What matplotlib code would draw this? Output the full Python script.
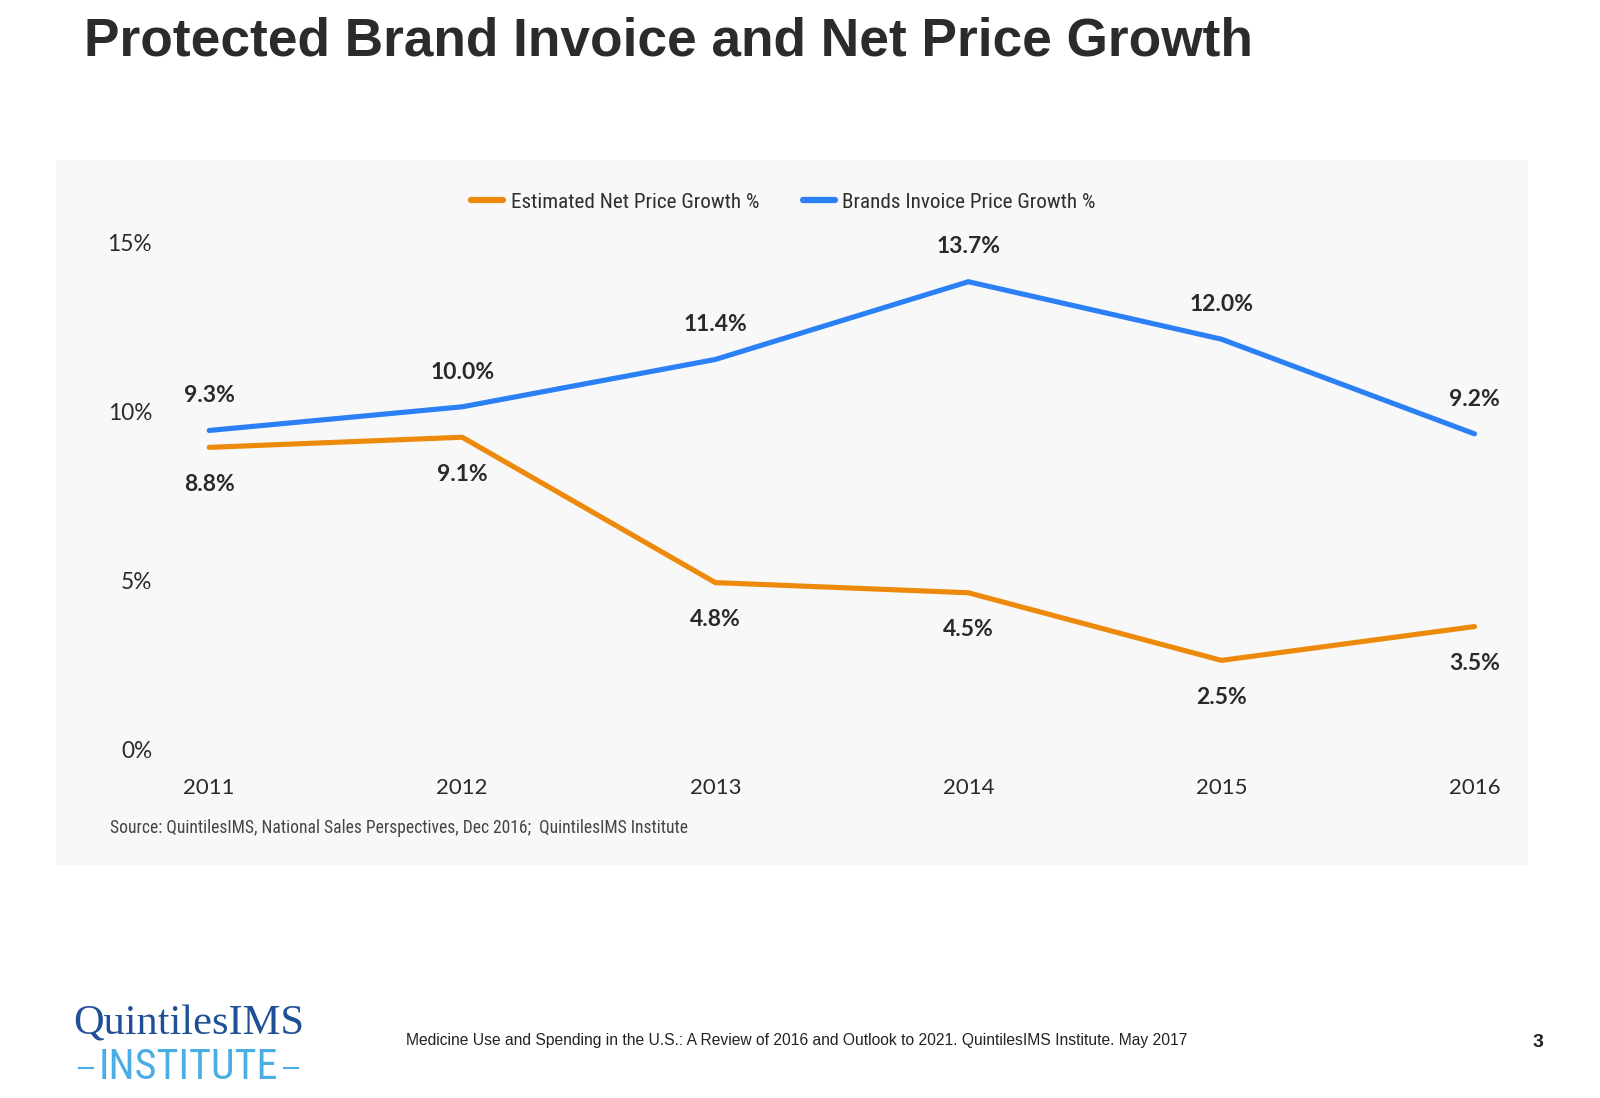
import matplotlib
matplotlib.use("Agg")
import matplotlib.pyplot as plt
import matplotlib.transforms as mtransforms
from matplotlib import font_manager
from matplotlib.font_manager import FontProperties
from matplotlib.patches import Rectangle
from matplotlib.lines import Line2D

years = ["2011", "2012", "2013", "2014", "2015", "2016"]
net_price = [8.8, 9.1, 4.8, 4.5, 2.5, 3.5]
invoice_price = [9.3, 10.0, 11.4, 13.7, 12.0, 9.2]
y_ticks = [0, 5, 10, 15]
y_tick_labels = ["0%", "5%", "10%", "15%"]

ORANGE = "#ee8a0b"
BLUE = "#2c80f6"
TEXT = "#2a2a2a"

names = {f.name for f in font_manager.fontManager.ttflist}
body = "Lato" if "Lato" in names else "DejaVu Sans"

# look for some condensed face for the legend / source text
cond_file = None
for pref in ["LiberationSansNarrow-Regular", "RobotoCondensed-Regular", "Roboto_Condensed",
             "OpenSans_Condensed-Regular", "DejaVuSansCondensed.ttf"]:
    for f in font_manager.fontManager.ttflist:
        if pref.lower() in f.fname.lower().replace(" ", ""):
            cond_file = f.fname
            break
    if cond_file:
        break


def cond(size):
    if cond_file:
        return FontProperties(fname=cond_file, size=size)
    return FontProperties(family="DejaVu Sans", stretch="condensed", size=size)


W, H = 1600, 1098
K = 1 / 0.98
fig = plt.figure(figsize=(W / 100, H / 100), dpi=100)
fig.patch.set_facecolor("white")


def fx(px):
    return px * K / W


def fy(py):
    return 1 - py * K / H


# grey chart panel
fig.patches.append(Rectangle((fx(55), fy(848)), fx(1497) - fx(55), fy(157) - fy(848),
                             transform=fig.transFigure, facecolor="#f8f8f8",
                             edgecolor="none", zorder=-10))

fig.text(fx(82), fy(41), "Protected Brand Invoice and Net Price Growth",
         fontsize=38.3, fontweight="bold", family="Liberation Sans", color="#2b2b2b",
         ha="left", va="center")

# axes: x=0 at px 205, step 248 px; line baseline sits a bit above the 0% label
left_px, right_px = 160, 1490
step = 248
ax = fig.add_axes([fx(left_px), fy(730), fx(right_px) - fx(left_px), fy(233) - fy(730)])
ax.set_facecolor("none")
ax.set_xlim(-(205 - left_px) / step, 5 + (right_px - 1445) / step)
ax.set_ylim(0, 15)
x = list(range(len(years)))

ax.plot(x, net_price, color=ORANGE, lw=3.7, solid_capstyle="round", clip_on=False)
ax.plot(x, invoice_price, color=BLUE, lw=3.7, solid_capstyle="round", clip_on=False)

for xi, v in zip(x, invoice_price):
    ax.annotate(f"{v:.1f}%", (xi, v), xytext=(0, 25), textcoords="offset points",
                ha="center", va="center", fontsize=16.5, fontweight="bold",
                family=body, color=TEXT)
for xi, v in zip(x, net_price):
    ax.annotate(f"{v:.1f}%", (xi, v), xytext=(0, -26.5), textcoords="offset points",
                ha="center", va="center", fontsize=16.5, fontweight="bold",
                family=body, color=TEXT)

ax.set_yticks(y_ticks)
ax.set_yticklabels(y_tick_labels, family=body, fontsize=16.3, color=TEXT)
ax.set_xticks(x)
ax.set_xticklabels(years, family=body, fontsize=16, color=TEXT)
ax.tick_params(axis="y", length=0, pad=8)
ax.tick_params(axis="x", length=0, pad=24)
shift = mtransforms.ScaledTranslation(0, -5.1 / 100, fig.dpi_scale_trans)
for lab in ax.get_yticklabels():
    lab.set_transform(lab.get_transform() + shift)
for s in ax.spines.values():
    s.set_visible(False)

handles = [Line2D([], [], color=ORANGE, lw=4.5, solid_capstyle="round"),
           Line2D([], [], color=BLUE, lw=4.5, solid_capstyle="round")]
fig.legend(handles, ["Estimated Net Price Growth %", "Brands Invoice Price Growth %"],
           loc="center", bbox_to_anchor=(fx(768), fy(198)), ncol=2, frameon=False,
           prop=cond(15.2), handlelength=1.5, handletextpad=0.35,
           columnspacing=2.1, labelcolor="#2e2e2e")

fig.text(fx(108), fy(811), "Source: QuintilesIMS, National Sales Perspectives, Dec 2016;  QuintilesIMS Institute",
         fontproperties=cond(12.65), color="#444444", ha="left", va="center")

fig.text(fx(398), fy(1020),
         "Medicine Use and Spending in the U.S.: A Review of 2016 and Outlook to 2021. QuintilesIMS Institute. May 2017",
         family="Liberation Sans", fontsize=11.22, color="#222222", ha="left", va="center")
fig.text(fx(1507), fy(1022), "3", family="Liberation Sans", fontsize=14, fontweight="bold",
         color="#222222", ha="center", va="center")

# logo
fig.text(fx(72), fy(1004), "QuintilesIMS", family="Liberation Serif", fontsize=30.5,
         color="#1f4f95", ha="left", va="center")
fig.text(fx(184.5), fy(1046), "INSTITUTE", fontproperties=cond(30.3),
         color="#4aaee3", ha="center", va="center")
for x0, x1 in [(77, 91), (278, 292)]:
    fig.add_artist(Line2D([fx(x0), fx(x1)], [fy(1047), fy(1047)], color="#4aaee3",
                          lw=1.5, transform=fig.transFigure))

fig.savefig("out.png", dpi=100, facecolor="white")
